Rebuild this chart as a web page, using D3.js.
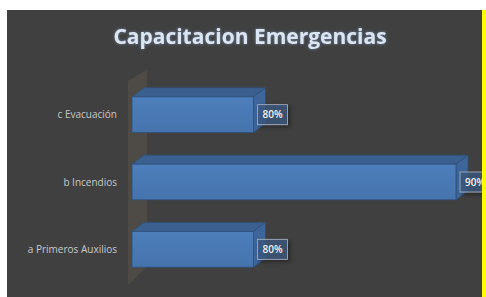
<!DOCTYPE html>
<html>
<head>
<meta charset="utf-8">
<script src="https://cdn.jsdelivr.net/npm/d3@7"></script>
<style>
  body { margin: 0; background: #fff; }
</style>
</head>
<body>
<div id="chart"></div>
<script>
// data
const categories = ["c Evacuación", "b Incendios", "a Primeros Auxilios"];
const values = [80, 90, 80];
const valueLabels = ["80%", "90%", "80%"];
const title = "Capacitacion Emergencias";

const W = 486, H = 297;
const depthX = 12, depthY = -9;

const svg = d3.select("#chart").append("svg")
    .attr("width", W)
    .attr("height", H);

const defs = svg.append("defs");

// front face gradient
const grad = defs.append("linearGradient")
    .attr("id", "front").attr("x1", 0).attr("y1", 0).attr("x2", 0).attr("y2", 1);
grad.append("stop").attr("offset", "0%").attr("stop-color", "#4d7fbc");
grad.append("stop").attr("offset", "100%").attr("stop-color", "#4673ac");

const glow = defs.append("filter").attr("id", "glow")
    .attr("x", "-10%").attr("y", "-30%").attr("width", "120%").attr("height", "160%");
glow.append("feGaussianBlur").attr("in", "SourceAlpha").attr("stdDeviation", 1.6).attr("result", "b");
glow.append("feFlood").attr("flood-color", "#8eb4e3").attr("flood-opacity", 0.6);
glow.append("feComposite").attr("in2", "b").attr("operator", "in").attr("result", "g");
const gm = glow.append("feMerge");
gm.append("feMergeNode").attr("in", "g");
gm.append("feMergeNode").attr("in", "SourceGraphic");

const shadow = defs.append("filter").attr("id", "shadow")
    .attr("x", "-30%").attr("y", "-40%").attr("width", "170%").attr("height", "190%");
shadow.append("feDropShadow").attr("dx", 2).attr("dy", 2).attr("stdDeviation", 2)
    .attr("flood-color", "#000").attr("flood-opacity", 0.5);

// panel
svg.append("rect").attr("x", 7).attr("y", 10).attr("width", 475).attr("height", 287)
    .attr("fill", "#404040");

const x = d3.scaleLinear().domain([74, 90]).range([132, 456]);
const y = d3.scaleBand().domain(categories).range([81, 283])
    .paddingInner(0.47).paddingOuter(0.235);

// back wall (depth plane)
const wx = 128, wTop = 81, wBot = 285;
svg.append("path")
    .attr("d", `M${wx},${wTop} L${wx + 19},${wTop - 11} L${wx + 19},${wBot - 18} L${wx},${wBot} Z`)
    .attr("fill", "#4e4b46");

// bars
const g = svg.append("g");
categories.forEach((c, i) => {
    const x0 = x.range()[0];
    const x1 = x(values[i]);
    const y0 = y(c), h = y.bandwidth();
    const bar = g.append("g");
    // top face
    bar.append("path")
        .attr("d", `M${x0},${y0} L${x0 + depthX},${y0 + depthY} L${x1 + depthX},${y0 + depthY} L${x1},${y0} Z`)
        .attr("fill", "#3b6090").attr("stroke", "#2f5078").attr("stroke-width", 0.8);
    // side face
    bar.append("path")
        .attr("d", `M${x1},${y0} L${x1 + depthX},${y0 + depthY} L${x1 + depthX},${y0 + h + depthY} L${x1},${y0 + h} Z`)
        .attr("fill", "#3e659a").attr("stroke", "#2f5078").attr("stroke-width", 0.8);
    // front face
    bar.append("rect")
        .attr("x", x0).attr("y", y0).attr("width", x1 - x0).attr("height", h)
        .attr("fill", "url(#front)").attr("stroke", "#2f5078").attr("stroke-width", 0.8);

    // value label box
    const lx = x1 + 4, ly = y0 + h / 2;
    const lab = g.append("g");
    lab.append("rect")
        .attr("x", lx).attr("y", ly - 10).attr("width", 30).attr("height", 20)
        .attr("fill", "#3d5a80").attr("fill-opacity", 0.75)
        .attr("stroke", "#a8b4c4").attr("stroke-width", 0.8)
        .attr("filter", "url(#shadow)");
    lab.append("text")
        .attr("x", lx + 15).attr("y", ly + 3.5)
        .attr("text-anchor", "middle")
        .attr("font-family", "Open Sans, sans-serif")
        .attr("font-weight", 600)
        .attr("font-size", 10)
        .attr("fill", "#f2f2f2")
        .text(valueLabels[i]);
});

// category axis labels
svg.append("g").selectAll("text")
    .data(categories)
    .join("text")
    .attr("x", 117)
    .attr("y", d => y(d) + y.bandwidth() / 2 + 3.5)
    .attr("text-anchor", "end")
    .attr("font-family", "Open Sans, sans-serif")
    .attr("font-size", 10)
    .attr("fill", "#c8c8c8")
    .text(d => d);

// title
svg.append("text")
    .attr("x", 250).attr("y", 44)
    .attr("text-anchor", "middle")
    .attr("font-family", "Open Sans, sans-serif")
    .attr("font-weight", "bold")
    .attr("font-size", 21)
    .attr("fill", "#dce6f2")
    .attr("filter", "url(#glow)")
    .text(title);

// yellow strip on the right, drawn last so it covers the clipped 90% label
svg.append("rect").attr("x", 482).attr("y", 10).attr("width", 4).attr("height", 287)
    .attr("fill", "#ffff00");
</script>
</body>
</html>
